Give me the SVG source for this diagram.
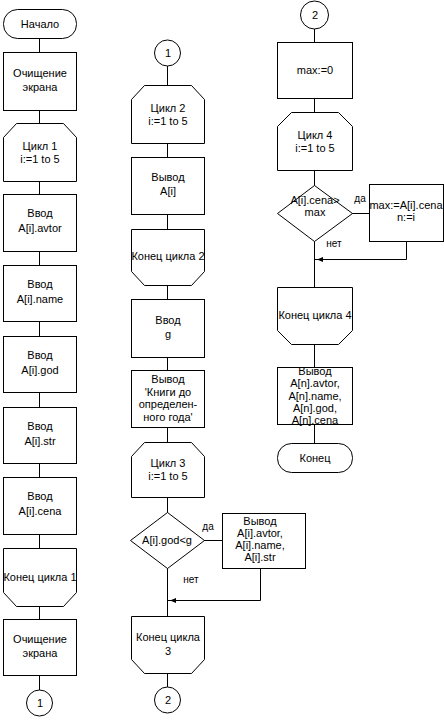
<svg xmlns="http://www.w3.org/2000/svg" width="444" height="720" viewBox="0 0 444 720">
<defs>
<style>
.s{fill:#fff;stroke:#000;stroke-width:1}
.l{fill:none;stroke:#000;stroke-width:1}
text{font-family:"Liberation Sans",Arial,sans-serif;font-size:11px;fill:#000;text-anchor:middle}
.sm{font-size:10px}
</style>
<marker id="ah" markerWidth="6" markerHeight="5" refX="0" refY="2.5" orient="auto" markerUnits="userSpaceOnUse">
<path d="M0,2.5 L6,0 L6,5 Z" fill="#000"/>
</marker>
</defs>
<rect width="444" height="720" fill="#fff"/>
<g id="connectors">
<line class="l" x1="39.5" y1="38" x2="39.5" y2="690"/>
<line class="l" x1="167.5" y1="66" x2="167.5" y2="687"/>
<line class="l" x1="314.5" y1="29" x2="314.5" y2="443"/>
<line class="l" x1="204" y1="540.5" x2="222" y2="540.5"/>
<polyline class="l" points="260.5,568 260.5,600.5 168,600.5"/>
<path d="M170,600.5 L176,598 L176,603 Z" fill="#000"/>
<line class="l" x1="352" y1="213.5" x2="369" y2="213.5"/>
<polyline class="l" points="406.5,241 406.5,259.5 315,259.5"/>
<path d="M317,259.5 L323,257 L323,262 Z" fill="#000"/>
<text class="sm" x="208" y="530">да</text>
<text class="sm" x="191" y="583">нет</text>
<text class="sm" x="360" y="202">да</text>
<text class="sm" x="334" y="247">нет</text>
</g>
<g id="n_start"><rect class="s" x="3.5" y="9.5" width="73" height="29" rx="14" ry="14"/><text x="40" y="28">Начало</text></g>
<g id="n_clear1"><rect class="s" x="3.5" y="52.5" width="73" height="58"/><text x="40" y="77">Очищение</text><text x="40" y="91">экрана</text></g>
<g id="n_loop1"><polygon class="s" points="16.5,123.5 63.5,123.5 76.5,137.5 76.5,181.5 3.5,181.5 3.5,137.5"/><text x="40" y="150">Цикл 1</text><text x="40" y="163">i:=1 to 5</text></g>
<g id="n_in_avtor"><rect class="s" x="3.5" y="194.5" width="73" height="57"/><text x="40" y="217">Ввод</text><text x="40" y="232">A[i].avtor</text></g>
<g id="n_in_name"><rect class="s" x="3.5" y="265.5" width="73" height="56"/><text x="40" y="288">Ввод</text><text x="40" y="303">A[i].name</text></g>
<g id="n_in_god"><rect class="s" x="3.5" y="336.5" width="73" height="56"/><text x="40" y="359">Ввод</text><text x="40" y="374">A[i].god</text></g>
<g id="n_in_str"><rect class="s" x="3.5" y="407.5" width="73" height="56"/><text x="40" y="430">Ввод</text><text x="40" y="445">A[i].str</text></g>
<g id="n_in_cena"><rect class="s" x="3.5" y="477.5" width="73" height="57"/><text x="40" y="500">Ввод</text><text x="40" y="515">A[i].cena</text></g>
<g id="n_end1"><polygon class="s" points="3.5,548.5 76.5,548.5 76.5,592.5 63.5,606.5 16.5,606.5 3.5,592.5"/><text x="40" y="581">Конец цикла 1</text></g>
<g id="n_clear2"><rect class="s" x="3.5" y="619.5" width="73" height="56"/><text x="40" y="643">Очищение</text><text x="40" y="657">экрана</text></g>
<g id="n_c1a"><circle class="s" cx="39.5" cy="703" r="13"/><text x="40" y="707">1</text></g>
<g id="n_c1b"><circle class="s" cx="167.5" cy="53" r="13"/><text x="168" y="57">1</text></g>
<g id="n_loop2"><polygon class="s" points="144.5,85.5 191.5,85.5 204.5,99.5 204.5,143.5 131.5,143.5 131.5,99.5"/><text x="168" y="112">Цикл 2</text><text x="168" y="125">i:=1 to 5</text></g>
<g id="n_out_ai"><rect class="s" x="131.5" y="157.5" width="73" height="57"/><text x="168" y="181">Вывод</text><text x="168" y="195">A[i]</text></g>
<g id="n_end2"><polygon class="s" points="131.5,229.5 204.5,229.5 204.5,271.5 191.5,285.5 144.5,285.5 131.5,271.5"/><text x="168" y="260">Конец цикла 2</text></g>
<g id="n_in_g"><rect class="s" x="131.5" y="299.5" width="73" height="58"/><text x="168" y="324">Ввод</text><text x="168" y="338">g</text></g>
<g id="n_out_msg"><rect class="s" x="131.5" y="370.5" width="73" height="57"/><text x="168" y="383">Вывод</text><text x="168" y="396">'Книги до</text><text x="168" y="408">определен-</text><text x="168" y="421">ного года'</text></g>
<g id="n_loop3"><polygon class="s" points="144.5,442.5 191.5,442.5 204.5,456.5 204.5,497.5 131.5,497.5 131.5,456.5"/><text x="168" y="467">Цикл 3</text><text x="168" y="480">i:=1 to 5</text></g>
<g id="n_cond1"><polygon class="s" points="167.5,512.5 204.5,540.5 167.5,568.5 130.5,540.5"/><text x="167" y="544">A[i].god&lt;g</text></g>
<g id="n_out_book"><rect class="s" x="222.5" y="513.5" width="83" height="55"/><text x="260" y="525">Вывод</text><text x="260" y="537">A[i].avtor,</text><text x="260" y="549">A[i].name,</text><text x="260" y="561">A[i].str</text></g>
<g id="n_end3"><polygon class="s" points="131.5,616.5 204.5,616.5 204.5,659.5 191.5,673.5 144.5,673.5 131.5,659.5"/><text x="168" y="641">Конец цикла</text><text x="168" y="655">3</text></g>
<g id="n_c2a"><circle class="s" cx="167.5" cy="700" r="13"/><text x="168" y="704">2</text></g>
<g id="n_c2b"><circle class="s" cx="314.5" cy="15" r="14"/><text x="315" y="19">2</text></g>
<g id="n_max0"><rect class="s" x="277.5" y="42.5" width="75" height="56"/><text x="315" y="74">max:=0</text></g>
<g id="n_loop4"><polygon class="s" points="291.5,112.5 338.5,112.5 352.5,126.5 352.5,170.5 277.5,170.5 277.5,126.5"/><text x="315" y="139">Цикл 4</text><text x="315" y="152">i:=1 to 5</text></g>
<g id="n_cond2"><polygon class="s" points="314.5,185.5 352.5,213.5 314.5,241.5 277.5,213.5"/><text x="315" y="204">A[i].cena&gt;</text><text x="315" y="216">max</text></g>
<g id="n_assign"><rect class="s" x="369.5" y="184.5" width="74" height="57"/><text x="406" y="209">max:=A[i].cena</text><text x="406" y="221">n:=i</text></g>
<g id="n_end4"><polygon class="s" points="277.5,287.5 352.5,287.5 352.5,330.5 338.5,344.5 291.5,344.5 277.5,330.5"/><text x="315" y="319">Конец цикла 4</text></g>
<g id="n_out_max"><rect class="s" x="277.5" y="367.5" width="75" height="57"/><text x="315" y="375">Вывод</text><text x="315" y="387">A[n].avtor,</text><text x="315" y="400">A[n].name,</text><text x="315" y="412">A[n].god,</text><text x="315" y="424">A[n].cena</text></g>
<g id="n_end"><rect class="s" x="277.5" y="443.5" width="75" height="29" rx="14" ry="14"/><text x="315" y="462">Конец</text></g>
</svg>
